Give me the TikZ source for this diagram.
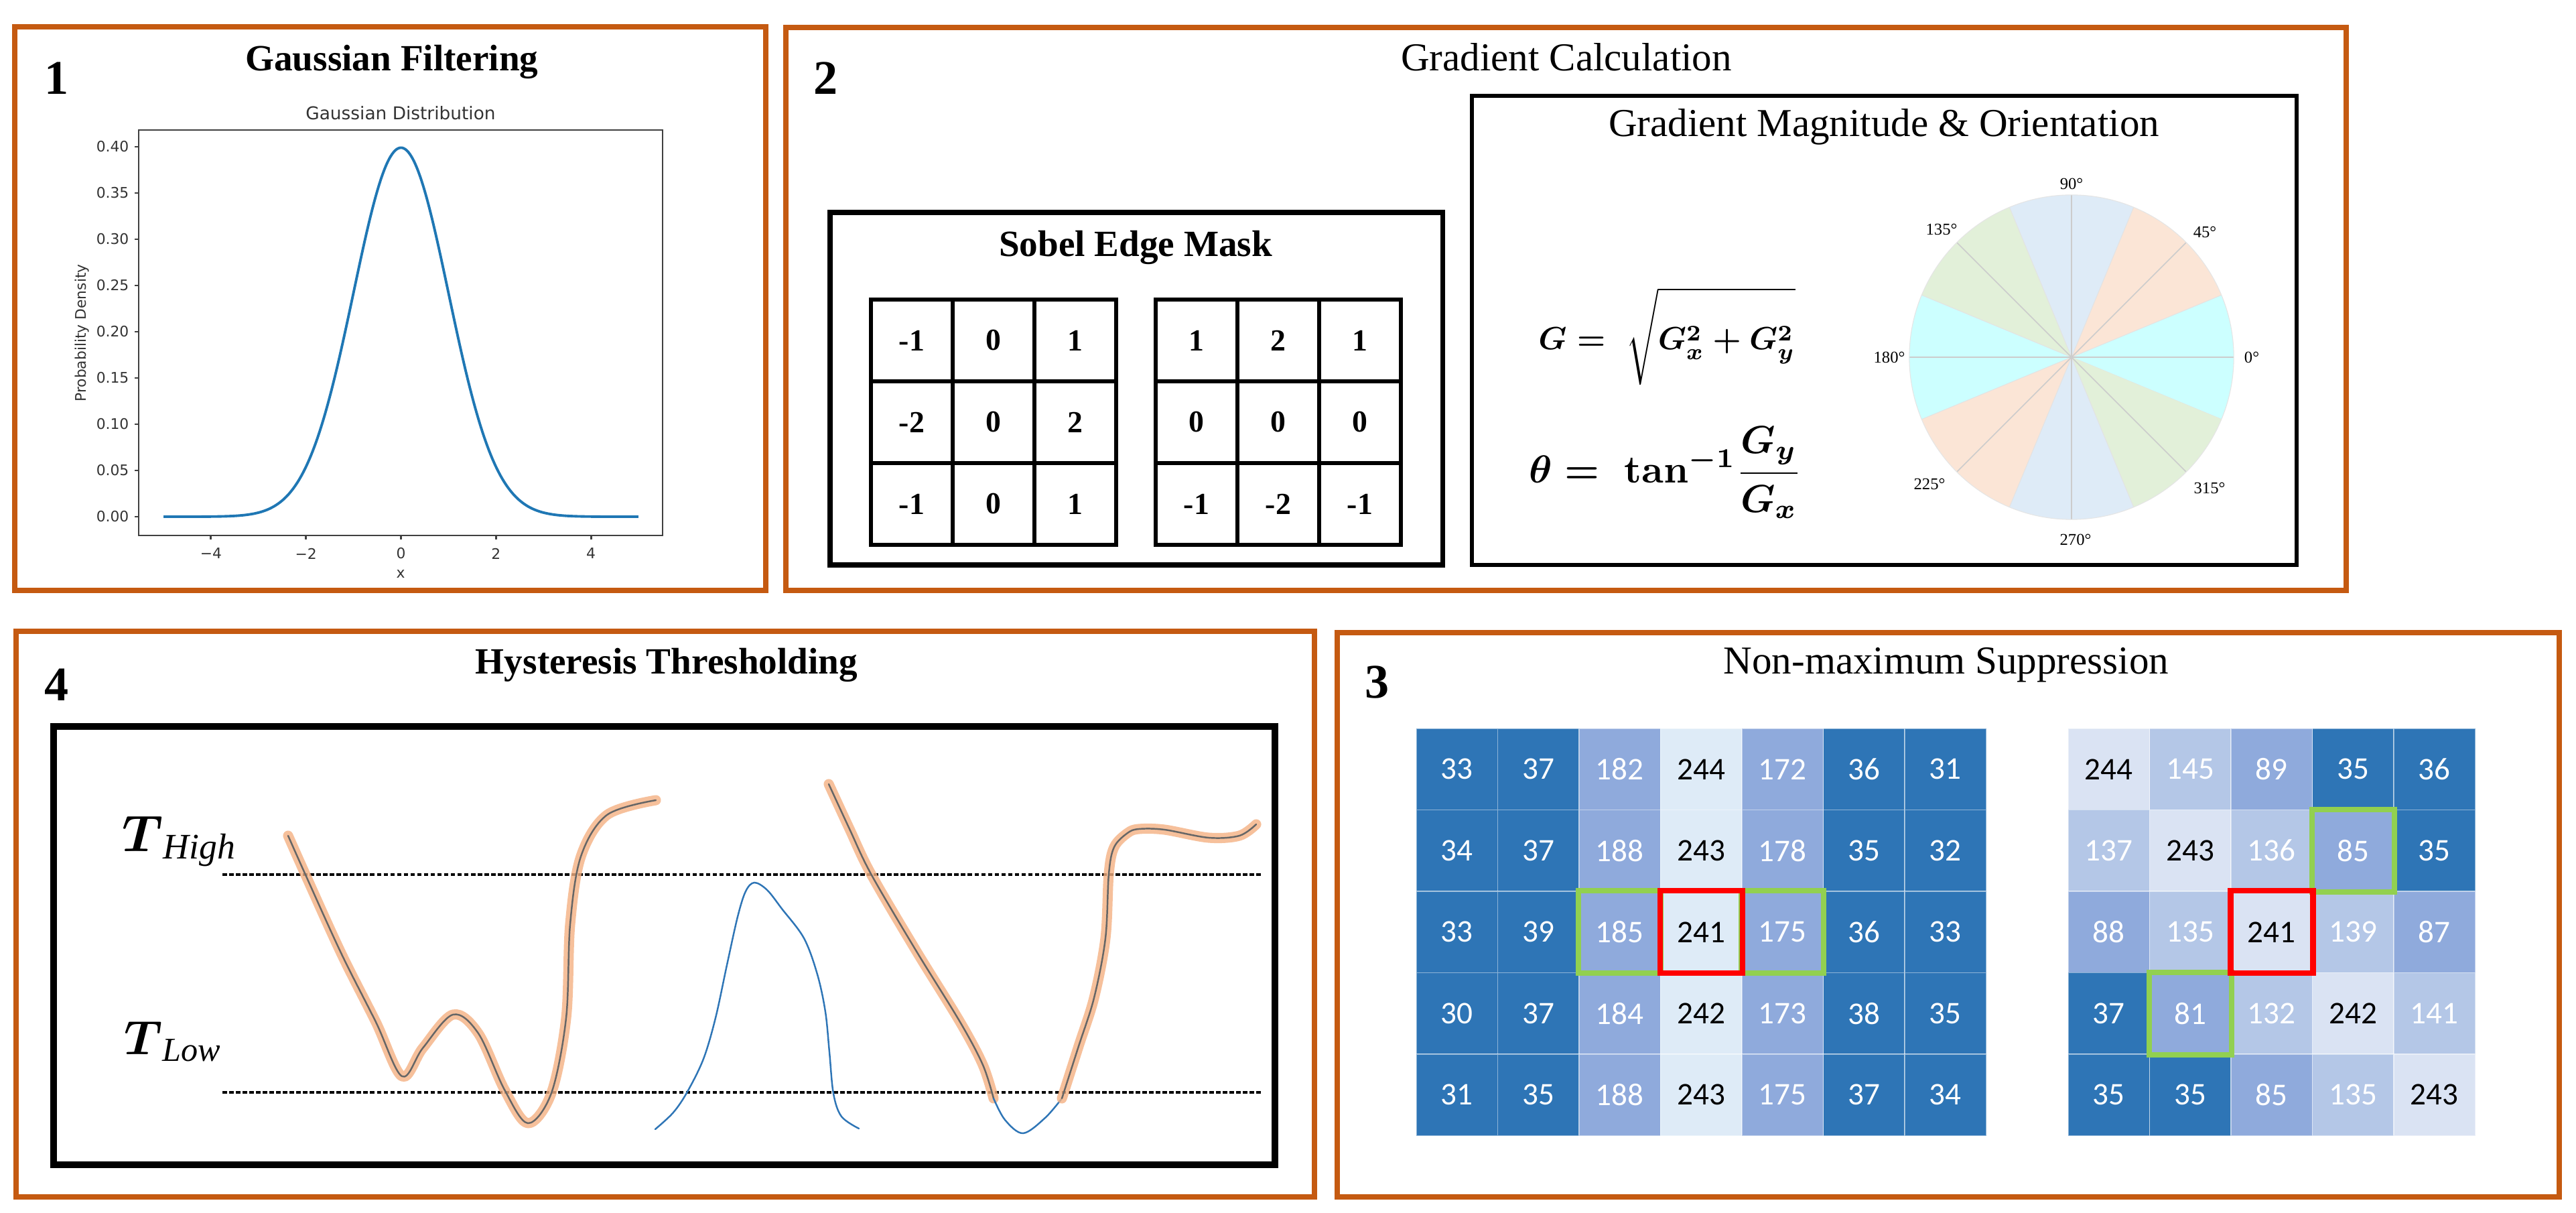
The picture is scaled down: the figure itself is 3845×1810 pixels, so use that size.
\documentclass[tikz,border=0pt]{standalone}
\usepackage{amsmath}
\usepackage{graphicx}
\usepackage{fontspec}
\setmainfont{Liberation Serif}
\newfontfamily\plotfont{DejaVu Sans}
\newfontfamily\cellfont{Carlito}
\definecolor{frameor}{HTML}{C55A11}
\definecolor{cellD}{HTML}{2E75B6}
\definecolor{cellM}{HTML}{8FAADC}
\definecolor{cellL}{HTML}{B4C7E7}
\definecolor{cellV}{HTML}{DEEBF7}
\definecolor{cellW}{HTML}{DAE3F3}
\colorlet{txtD}{white}
\colorlet{txtM}{white}
\colorlet{txtL}{white}
\colorlet{txtV}{black}
\colorlet{txtW}{black}
\definecolor{secC}{HTML}{CCFFFF}
\definecolor{secP}{HTML}{FBE5D6}
\definecolor{secB}{HTML}{DEEBF7}
\definecolor{secG}{HTML}{E2F0D9}
\definecolor{hlcol}{HTML}{F4B183}
\definecolor{blueline}{HTML}{2E75B6}
\definecolor{mplblue}{HTML}{1F77B4}
\definecolor{gboxc}{HTML}{92D050}
\begin{document}
\begin{tikzpicture}[x=0.01cm,y=-0.01cm,
  panel/.style={draw=frameor, line width=2.3pt},
  boxk/.style={draw=black, line width=2pt},
  ttl/.style={font=\fontsize{16.8}{18}\selectfont, anchor=base, inner sep=0},
  ttlb/.style={font=\fontsize{15.7}{17}\selectfont\bfseries, anchor=base, inner sep=0},
  numb/.style={font=\fontsize{20.5}{22}\selectfont\bfseries, anchor=base, inner sep=0},
  sob/.style={draw=black, line width=1.6pt, minimum width=1.22cm, minimum height=1.22cm, inner sep=0,
    font=\fontsize{13}{14}\selectfont\bfseries},
  cell/.style={minimum width=1.215cm, minimum height=1.215cm, inner sep=0, fill=cell#1, text=txt#1,
    draw=white, draw opacity=0.45, line width=0.4pt, font=\cellfont\fontsize{13.4}{15}\selectfont},
  gbox/.style={draw=gboxc, line width=2.2pt},
  rbox/.style={draw=red, line width=2.4pt},
  axc/.style={draw=black!75, line width=0.8pt},
  tickl/.style={font=\plotfont\fontsize{6.2}{7}\selectfont, text=black!80, inner sep=0},
  ptitle/.style={font=\plotfont\fontsize{7.5}{8.5}\selectfont, text=black!80, inner sep=0},
  degl/.style={font=\fontsize{7}{8}\selectfont, inner sep=0},
  thr/.style={draw=black, line width=1pt, dash pattern=on 1.9pt off 0.95pt},
  hlline/.style={draw=hlcol, line width=4.3pt, line cap=round, line join=round, opacity=0.8},
  hlcore/.style={draw=black!60, line width=0.7pt, line cap=round},
  bl/.style={draw=blueline, line width=0.7pt, line cap=round}
]
\useasboundingbox (0,0) rectangle (3845,1810);
\fill[white] (0,0) rectangle (3845,1810);

% ---------- panel frames ----------
\draw[panel] (22,40) rectangle (1143,881);
\draw[panel] (1173,41) rectangle (3502,881);
\draw[panel] (24,942) rectangle (1962,1786);
\draw[panel] (1996,944) rectangle (3820,1786);

% ---------- panel 1 ----------
\node[numb] (n1) at (85,141) {1};
\node[ttlb] (t1) at (585,106) {Gaussian Filtering};
\node[ptitle] (gt) at (598,169) {Gaussian Distribution};
\draw[axc] (207,194) rectangle (989,799);
\draw[mplblue, line width=1.1pt] plot[domain=-5:5, samples=160, variable=\t, smooth]
  ({598.5+70.9*\t},{771-550.5*exp(-0.5*\t*\t)});
\foreach \t/\lab [count=\i] in {-4/−4,-2/−2,0/0,2/2,4/4} {
  \draw[axc] ({598.5+70.9*\t},799) -- ({598.5+70.9*\t},805);
  \node[tickl] (xt\i) at ({598.5+70.9*\t},826) {\lab};
}
\foreach \v/\lab [count=\i] in {0/0.00,0.05/0.05,0.1/0.10,0.15/0.15,0.2/0.20,0.25/0.25,0.3/0.30,0.35/0.35,0.4/0.40} {
  \draw[axc] (201,{771-1380*\v}) -- (207,{771-1380*\v});
  \node[tickl, anchor=east] (yt\i) at (193,{771-1380*\v}) {\lab};
}
\node[tickl] (gx) at (598,857) {x};
\node[tickl, rotate=90] (gy) at (122,497) {Probability Density};

% ---------- panel 2 ----------
\node[numb] (n2) at (1233,141) {2};
\node[ttl] (t2) at (2338,106) {Gradient Calculation};
\draw[boxk] (1239,317) rectangle (2153,843);
\node[ttlb] (t2a) at (1695,383) {Sobel Edge Mask};
\foreach \rowlist [count=\r] in {{-1,0,1},{-2,0,2},{-1,0,1}} {
  \foreach \v [count=\k] in \rowlist {
    \node[sob] (SA-\r-\k) at ({1361+(\k-1)*122},{508+(\r-1)*122}) {\v};
  }
}
\foreach \rowlist [count=\r] in {{1,2,1},{0,0,0},{-1,-2,-1}} {
  \foreach \v [count=\k] in \rowlist {
    \node[sob] (SB-\r-\k) at ({1786+(\k-1)*122},{508+(\r-1)*122}) {\v};
  }
}
\draw[boxk, line width=1.9pt] (2197,143) rectangle (3428,843);
\node[ttl] (t2b) at (2812,204) {Gradient Magnitude \& Orientation};
\node[inner sep=0] (fG) at (2488,502)
  {\resizebox{3.83cm}{!}{\boldmath$G = \;\sqrt{\rule[-0.95em]{0pt}{2.6em}G_x^2 + G_y^2}$}};
\node[inner sep=0] (fT) at (2486,705)
  {\resizebox{4.07cm}{!}{\boldmath$\theta = \;\mathbf{tan}^{-1}\dfrac{G_y}{G_x}$}};

% compass
\begin{scope}[shift={(3092,533)}]
  \foreach \a/\col in {-22.5/secC,22.5/secP,67.5/secB,112.5/secG,157.5/secC,202.5/secP,247.5/secB,292.5/secG} {
    \fill[\col] (0,0) -- (\a:2.42cm) arc[start angle=\a, end angle={\a+45}, radius=2.42cm] -- cycle;
    \draw[gray!22, line width=0.3pt] (0,0) -- (\a:2.42cm);
  }
  \foreach \a in {0,45,90,135} {
    \draw[gray!40, line width=0.45pt] (\a:2.42cm) -- (\a+180:2.42cm);
  }
  \draw[gray!20, line width=0.3pt] (0,0) circle[radius=2.42cm];
\end{scope}
\node[degl] (d90) at (3092,274) {90°};
\node[degl] (d45) at (3291,346) {45°};
\node[degl] (d135) at (2898,342) {135°};
\node[degl] (d0) at (3361,533) {0°};
\node[degl] (d180) at (2820,533) {180°};
\node[degl] (d225) at (2880,722) {225°};
\node[degl] (d315) at (3298,728) {315°};
\node[degl] (d270) at (3098,805) {270°};

% ---------- panel 4 ----------
\node[numb] (n4) at (85,1045) {4};
\node[ttlb] (t4) at (995,1006) {Hysteresis Thresholding};
\draw[draw=black, line width=2.6pt] (80,1084) rectangle (1903,1738);
\node[anchor=base west, inner sep=0] (tH) at (182,1270)
  {\resizebox{1.72cm}{!}{$\boldsymbol{T}_{\mathit{High}}$}};
\node[anchor=base west, inner sep=0] (tL) at (185,1573)
  {\resizebox{1.47cm}{!}{$\boldsymbol{T}_{\mathit{Low}}$}};
\draw[thr] (332,1305) -- (1883,1305);
\draw[thr] (332,1630) -- (1883,1630);
% curve 1
\draw[hlline] plot[smooth, tension=0.55] coordinates {(430,1247) (459,1312) (510,1424) (561,1525) (600,1606) (631,1564) (676,1514) (714,1542) (753,1626) (788,1676) (823,1631) (845,1519) (851,1379) (867,1278) (906,1216) (979,1194)};
\draw[hlcore] plot[smooth, tension=0.55] coordinates {(430,1247) (459,1312) (510,1424) (561,1525) (600,1606) (631,1564) (676,1514) (714,1542) (753,1626) (788,1676) (823,1631) (845,1519) (851,1379) (867,1278) (906,1216) (979,1194)};
% blue curve
\draw[bl] plot[smooth, tension=0.55] coordinates {(978,1685) (1005,1660) (1026,1629) (1050,1580) (1068,1519) (1085,1440) (1101,1368) (1113,1330) (1126,1317) (1145,1328) (1167,1356) (1200,1400) (1220,1454) (1232,1510) (1238,1570) (1244,1632) (1256,1666) (1282,1684)};
% curve 2
\draw[hlline] plot[smooth, tension=0.55] coordinates {(1237,1170) (1268,1237) (1300,1304) (1367,1418) (1433,1525) (1467,1589) (1483,1639)};
\draw[hlcore] plot[smooth, tension=0.55] coordinates {(1237,1170) (1268,1237) (1300,1304) (1367,1418) (1433,1525) (1467,1589) (1483,1639)};
\draw[bl] plot[smooth, tension=0.55] coordinates {(1483,1639) (1500,1671) (1527,1691) (1560,1668) (1585,1639)};
\draw[hlline] plot[smooth, tension=0.55] coordinates {(1585,1639) (1610,1561) (1633,1489) (1650,1400) (1655,1304) (1663,1264) (1683,1243) (1700,1237) (1738,1238) (1804,1250) (1850,1247) (1875,1230)};
\draw[hlcore] plot[smooth, tension=0.55] coordinates {(1585,1639) (1610,1561) (1633,1489) (1650,1400) (1655,1304) (1663,1264) (1683,1243) (1700,1237) (1738,1238) (1804,1250) (1850,1247) (1875,1230)};

% ---------- panel 3 ----------
\node[numb] (n3) at (2055,1042) {3};
\node[ttl] (t3) at (2905,1006) {Non-maximum Suppression};
\foreach \rowlist [count=\r] in {
  {33/D,37/D,182/M,244/V,172/M,36/D,31/D},
  {34/D,37/D,188/M,243/V,178/M,35/D,32/D},
  {33/D,39/D,185/M,241/V,175/M,36/D,33/D},
  {30/D,37/D,184/M,242/V,173/M,38/D,35/D},
  {31/D,35/D,188/M,243/V,175/M,37/D,34/D}} {
  \foreach \v/\c [count=\k] in \rowlist {
    \node[cell=\c] (L-\r-\k) at ({2114+(\k-0.5)*121.5},{1087+(\r-0.5)*121.5}) {\v};
  }
}
\foreach \rowlist [count=\r] in {
  {244/W,145/L,89/M,35/D,36/D},
  {137/L,243/W,136/L,85/M,35/D},
  {88/M,135/L,241/W,139/L,87/M},
  {37/D,81/M,132/L,242/W,141/L},
  {35/D,35/D,85/M,135/L,243/W}} {
  \foreach \v/\c [count=\k] in \rowlist {
    \node[cell=\c] (R-\r-\k) at ({3087+(\k-0.5)*121.5},{1087+(\r-0.5)*121.5}) {\v};
  }
}
\draw[gbox] (L-3-3.north west) rectangle (L-3-3.south east);
\draw[gbox] (L-3-5.north west) rectangle (L-3-5.south east);
\draw[rbox] (L-3-4.north west) rectangle (L-3-4.south east);
\draw[gbox] (R-2-4.north west) rectangle (R-2-4.south east);
\draw[gbox] (R-4-2.north west) rectangle (R-4-2.south east);
\draw[rbox] (R-3-3.north west) rectangle (R-3-3.south east);
\end{tikzpicture}
\end{document}
